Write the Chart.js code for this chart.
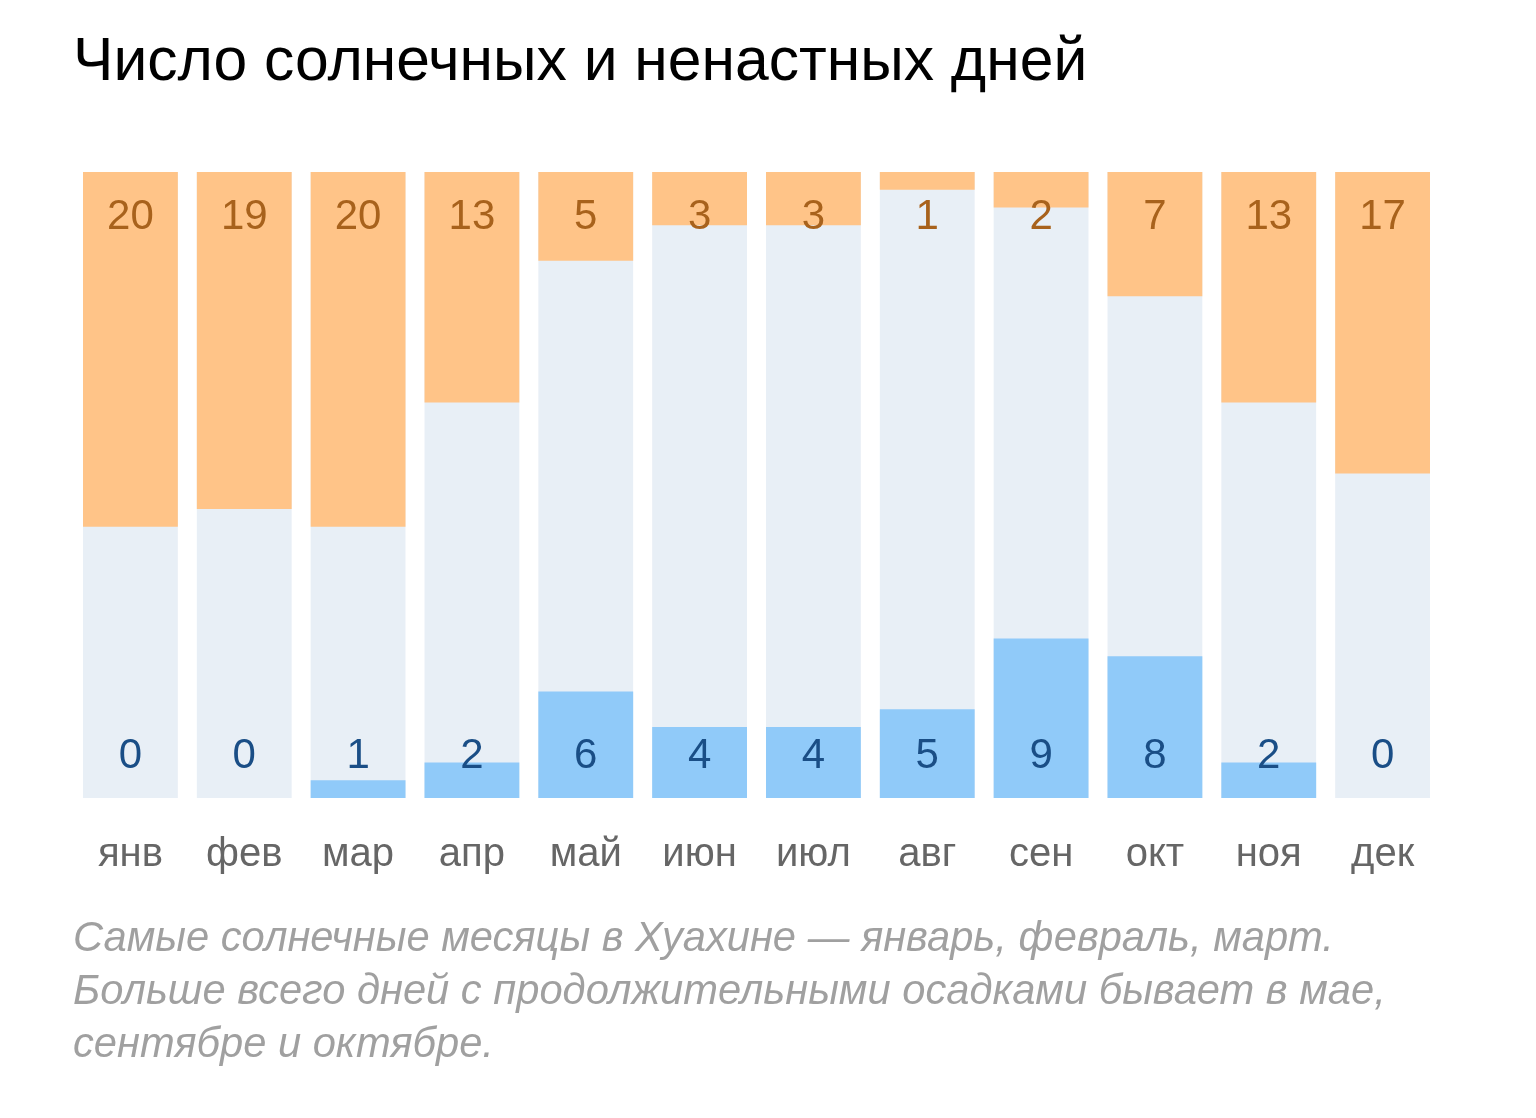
<!DOCTYPE html>
<html>
<head>
<meta charset="utf-8">
<script src="https://cdn.jsdelivr.net/npm/chart.js@4.4.1/dist/chart.umd.min.js"></script>
<style>
  html, body { margin: 0; padding: 0; background: #fff; }
  body { width: 1536px; height: 1118px; position: relative; overflow: hidden; font-family: "Liberation Sans", Arial, sans-serif; }
  #title { position: absolute; left: 73px; top: 29px; font-size: 60.6px; color: #000; white-space: nowrap; line-height: 1; }
  #wrap { position: absolute; left: 0; top: 0; width: 1536px; height: 938px; }
  #caption { position: absolute; left: 73px; top: 910px; font-size: 41.7px; font-style: italic; color: #a0a0a0; line-height: 53px; width: 1440px; white-space: nowrap; }
</style>
</head>
<body>
<div id="title">Число солнечных и ненастных дней</div>
<div id="wrap"><canvas id="c"></canvas></div>
<div id="caption">Самые солнечные месяцы в Хуахине — январь, февраль, март.<br>Больше всего дней с продолжительными осадками бывает в мае,<br>сентябре и октябре.</div>
<script>
const months = ["янв","фев","мар","апр","май","июн","июл","авг","сен","окт","ноя","дек"];
const sunnyDays = [20,19,20,13,5,3,3,1,2,7,13,17];
const rainyDays = [0,0,1,2,6,4,4,5,9,8,2,0];
const scaleMax = 35.3;

const sunnyRanges = sunnyDays.map(v => [scaleMax - v, scaleMax]);
const rainyRanges = rainyDays.map(v => [0, v]);
const bgRanges = months.map(() => [0, scaleMax]);

const labelPlugin = {
  id: 'valueLabels',
  afterDatasetsDraw(chart) {
    const ctx = chart.ctx;
    const area = chart.chartArea;
    const xs = chart.scales.x;
    ctx.save();
    ctx.font = '42px "Liberation Sans", Arial, sans-serif';
    ctx.textAlign = 'center';
    ctx.textBaseline = 'middle';
    months.forEach((m, i) => {
      const x = xs.getPixelForValue(i);
      ctx.fillStyle = '#a8621c';
      ctx.fillText(String(sunnyDays[i]), x, area.top + 45);
      ctx.fillStyle = '#1a4e86';
      ctx.fillText(String(rainyDays[i]), x, area.bottom - 42);
    });
    ctx.restore();
  }
};

new Chart(document.getElementById('c'), {
  type: 'bar',
  data: {
    labels: months,
    datasets: [
      { label: 'bg', data: bgRanges, backgroundColor: '#e8eff6', order: 3 },
      { label: 'sunny', data: sunnyRanges, backgroundColor: '#ffc488', order: 2 },
      { label: 'rainy', data: rainyRanges, backgroundColor: '#90caf9', order: 1 }
    ]
  },
  options: {
    responsive: true,
    maintainAspectRatio: false,
    animation: false,
    barPercentage: 0.833,
    categoryPercentage: 1.0,
    layout: { padding: { left: 73.5, right: 96.5, top: 172, bottom: 26 } },
    plugins: { legend: { display: false }, tooltip: { enabled: false }, title: { display: false } },
    scales: {
      x: {
        stacked: true,
        grid: { display: false, drawTicks: false },
        border: { display: false },
        ticks: { color: '#666', font: { size: 40, family: '"Liberation Sans", Arial, sans-serif' }, padding: 33, maxRotation: 0 }
      },
      y: {
        stacked: false,
        display: false,
        min: 0,
        max: scaleMax
      }
    }
  },
  plugins: [labelPlugin]
});
</script>
</body>
</html>
